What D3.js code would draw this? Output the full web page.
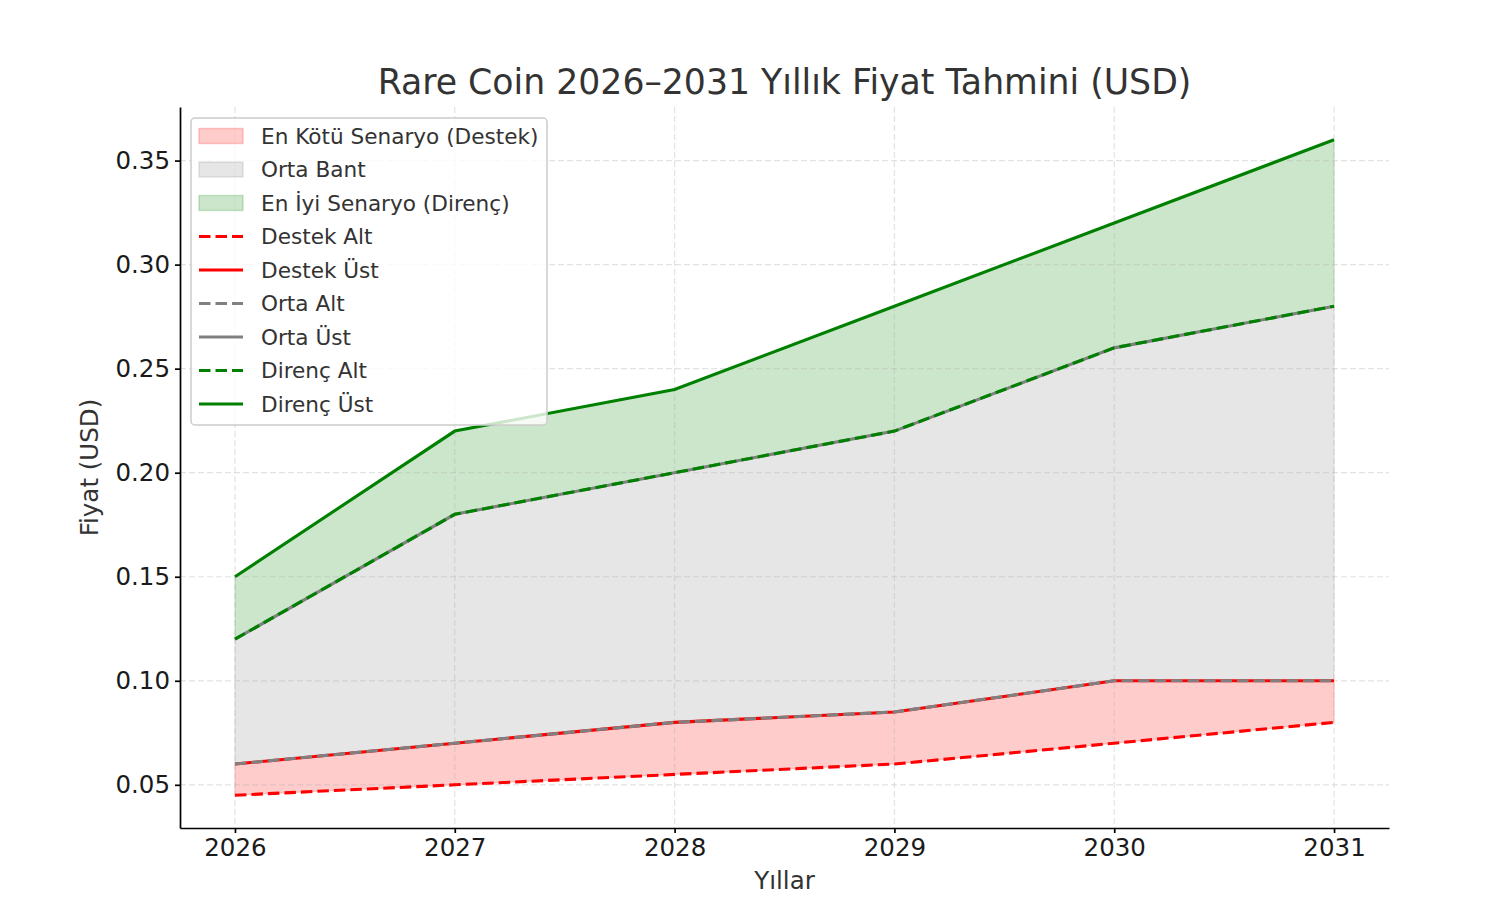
<!DOCTYPE html>
<html>
<head>
<meta charset="utf-8">
<script src="https://cdn.jsdelivr.net/npm/d3@7"></script>
<style>
  body { margin: 0; background: #fff; overflow: hidden; }
  svg { display: block; }
  text { font-family: "DejaVu Sans", sans-serif; }
</style>
</head>
<body>
<div id="chart"></div>
<script>
// yearly price bands
const years = [2026, 2027, 2028, 2029, 2030, 2031];
const destekAlt = [0.045, 0.05, 0.055, 0.06, 0.07, 0.08];
const destekUst = [0.06, 0.07, 0.08, 0.085, 0.10, 0.10];
const ortaAlt = [0.06, 0.07, 0.08, 0.085, 0.10, 0.10];
const ortaUst = [0.12, 0.18, 0.20, 0.22, 0.26, 0.28];
const direncAlt = [0.12, 0.18, 0.20, 0.22, 0.26, 0.28];
const direncUst = [0.15, 0.22, 0.24, 0.28, 0.32, 0.36];
const yTicks = [0.05, 0.10, 0.15, 0.20, 0.25, 0.30, 0.35];

const width = 1492, height = 900;
const margin = { top: 107, right: 103, bottom: 72, left: 180 };
const innerWidth = width - margin.left - margin.right;
const innerHeight = height - margin.top - margin.bottom;

const svg = d3.select("#chart")
    .append("svg")
    .attr("width", width)
    .attr("height", height);

const innerChart = svg.append("g")
    .attr("transform", `translate(${margin.left}, ${margin.top})`);

// matplotlib-like 5% padding
const yMin = d3.min(destekAlt), yMax = d3.max(direncUst);
const yPad = (yMax - yMin) * 0.05;
const xScale = d3.scaleLinear()
    .domain([2026 - 0.25, 2031 + 0.25])
    .range([0, innerWidth]);
const yScale = d3.scaleLinear()
    .domain([yMin - yPad, yMax + yPad])
    .range([innerHeight, 0]);

// bands
const bands = [
    { lo: destekAlt, hi: destekUst, fill: "#ff0000" },
    { lo: ortaAlt, hi: ortaUst, fill: "#808080" },
    { lo: direncAlt, hi: direncUst, fill: "#008000" }
];
const area = d3.area()
    .x(d => xScale(d.x))
    .y0(d => yScale(d.lo))
    .y1(d => yScale(d.hi));

bands.forEach(b => {
    const pts = years.map((y, i) => ({ x: y, lo: b.lo[i], hi: b.hi[i] }));
    innerChart.append("path")
        .datum(pts)
        .attr("d", area)
        .attr("fill", b.fill)
        .attr("fill-opacity", 0.2)
        .attr("stroke", b.fill)
        .attr("stroke-opacity", 0.2)
        .attr("stroke-width", 1);
});

// grid
const grid = innerChart.append("g").attr("class", "grid");
grid.selectAll(".gx")
    .data(years)
    .join("line")
    .attr("x1", d => xScale(d)).attr("x2", d => xScale(d))
    .attr("y1", 0).attr("y2", innerHeight);
grid.selectAll(".gy")
    .data(yTicks)
    .join("line")
    .attr("x1", 0).attr("x2", innerWidth)
    .attr("y1", d => yScale(d)).attr("y2", d => yScale(d));
grid.selectAll("line")
    .attr("stroke", "#b0b0b0")
    .attr("stroke-opacity", 0.35)
    .attr("stroke-width", 1.2)
    .attr("stroke-dasharray", "6,3");

// lines
const series = [
    { name: "Destek Alt", values: destekAlt, color: "red", dash: "11.5,5" },
    { name: "Destek Üst", values: destekUst, color: "red", dash: null },
    { name: "Orta Alt", values: ortaAlt, color: "gray", dash: "11.5,5" },
    { name: "Orta Üst", values: ortaUst, color: "gray", dash: null },
    { name: "Direnç Alt", values: direncAlt, color: "green", dash: "11.5,5" },
    { name: "Direnç Üst", values: direncUst, color: "green", dash: null }
];
const line = d3.line()
    .x((d, i) => xScale(years[i]))
    .y(d => yScale(d));

series.forEach(s => {
    innerChart.append("path")
        .datum(s.values)
        .attr("d", line)
        .attr("fill", "none")
        .attr("stroke", s.color)
        .attr("stroke-width", 3.1)
        .attr("stroke-dasharray", s.dash);
});

// axes
const bottomAxis = d3.axisBottom(xScale)
    .tickValues(years)
    .tickFormat(d3.format("d"))
    .tickSize(5)
    .tickSizeOuter(0)
    .tickPadding(5.5);
const xAxis = innerChart.append("g")
    .attr("transform", `translate(0, ${innerHeight})`)
    .call(bottomAxis);

const leftAxis = d3.axisLeft(yScale)
    .tickValues(yTicks)
    .tickFormat(d3.format(".2f"))
    .tickSize(5)
    .tickSizeOuter(0)
    .tickPadding(5);
const yAxis = innerChart.append("g").call(leftAxis);

[xAxis, yAxis].forEach(ax => {
    ax.select(".domain").attr("stroke", "#000").attr("stroke-width", 1.7);
    ax.selectAll(".tick line").attr("stroke", "#000").attr("stroke-width", 1.7);
    ax.selectAll(".tick text")
        .attr("fill", "#1a1a1a")
        .style("font-size", "24.5px")
        .style("font-family", "DejaVu Sans");
});

// title + axis labels
svg.append("text")
    .text("Rare Coin 2026–2031 Yıllık Fiyat Tahmini (USD)")
    .attr("x", margin.left + innerWidth / 2)
    .attr("y", 94)
    .attr("text-anchor", "middle")
    .attr("fill", "#333")
    .style("font-size", "34.7px");

svg.append("text")
    .text("Yıllar")
    .attr("x", margin.left + innerWidth / 2)
    .attr("y", 889)
    .attr("text-anchor", "middle")
    .attr("fill", "#333")
    .style("font-size", "24.5px");

svg.append("text")
    .text("Fiyat (USD)")
    .attr("transform", `translate(98, ${margin.top + innerHeight / 2}) rotate(-90)`)
    .attr("text-anchor", "middle")
    .attr("fill", "#333")
    .style("font-size", "24.5px");

// legend
const legendItems = [
    { label: "En Kötü Senaryo (Destek)", type: "patch", color: "#ff0000" },
    { label: "Orta Bant", type: "patch", color: "#808080" },
    { label: "En İyi Senaryo (Direnç)", type: "patch", color: "#008000" },
    ...series.map(s => ({ label: s.name, type: "line", color: s.color, dash: s.dash }))
];

const legend = svg.append("g")
    .attr("class", "legend")
    .attr("transform", "translate(191, 118)");

legend.append("rect")
    .attr("width", 356)
    .attr("height", 307)
    .attr("rx", 4)
    .attr("fill", "#fff")
    .attr("fill-opacity", 0.8)
    .attr("stroke", "#cccccc")
    .attr("stroke-width", 1.5);

legendItems.forEach((item, i) => {
    const g = legend.append("g")
        .attr("transform", `translate(0, ${18 + i * 33.5})`);
    if (item.type === "patch") {
        g.append("rect")
            .attr("x", 8).attr("y", -7.5)
            .attr("width", 44).attr("height", 15)
            .attr("fill", item.color)
            .attr("fill-opacity", 0.2)
            .attr("stroke", item.color)
            .attr("stroke-opacity", 0.2)
            .attr("stroke-width", 1.5);
    } else {
        g.append("line")
            .attr("x1", 8).attr("x2", 52)
            .attr("stroke", item.color)
            .attr("stroke-width", 3.1)
            .attr("stroke-dasharray", item.dash);
    }
    g.append("text")
        .attr("x", 70)
        .attr("y", 7.5)
        .text(item.label)
        .attr("fill", "#333")
        .style("font-size", "21.6px");
});
</script>
</body>
</html>
